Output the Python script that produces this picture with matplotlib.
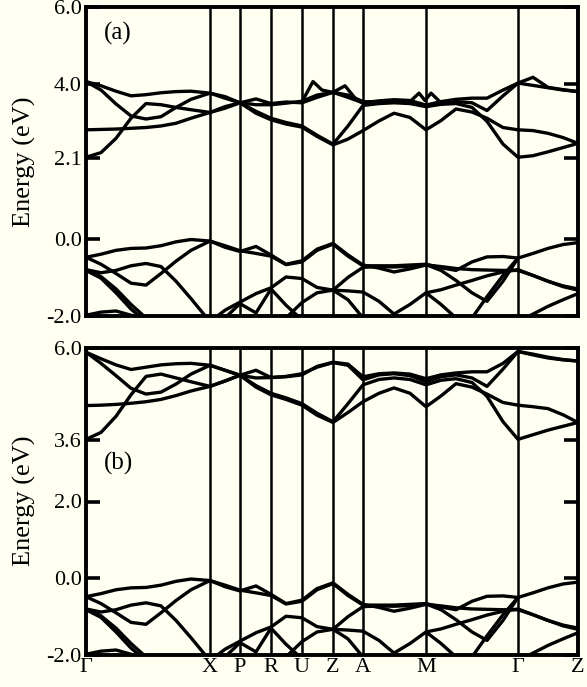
import numpy as np
import matplotlib
matplotlib.use("Agg")
import matplotlib.pyplot as plt

# k-path (distance along the path, arbitrary units) and the high-symmetry points
k_path = [0, 15, 30, 45, 60, 75, 90, 105, 124, 139, 154, 170, 185, 200, 216, 231, 247,
          262, 277, 293, 308, 324, 340, 355, 370, 386, 401, 417, 432, 447, 462, 477, 492]
hs_k = [0, 124, 154, 185, 216, 247, 277, 340, 432, 492]
hs_labels = ["Γ", "X", "P", "R", "U", "Z", "A", "M", "Γ", "Z"]

# conduction bands, panel (a)
cond_a1 = [4.07, 3.96, 3.82, 3.70, 3.73, 3.78, 3.81, 3.82, 3.77, 3.68, 3.52, 3.62, 3.50, 3.54, 3.52, 3.66, 3.79,
           3.66, 3.52, 3.57, 3.60, 3.58, 3.46, 3.55, 3.61, 3.64, 3.64, 3.85, 4.03, 3.97, 3.91, 3.85, 3.81]
cond_a2 = [4.07, 3.85, 3.49, 3.18, 3.10, 3.16, 3.40, 3.61, 3.77, 3.64, 3.52, 3.25, 3.08, 2.97, 2.89, 2.65, 2.43,
           2.58, 2.80, 3.05, 3.25, 3.14, 2.82, 3.06, 3.36, 3.28, 3.12, 2.88, 2.82, 2.80, 2.73, 2.62, 2.47]
cond_a3 = [2.11, 2.23, 2.60, 3.12, 3.50, 3.47, 3.40, 3.34, 3.27, 3.38, 3.52, 3.30, 3.12, 3.01, 2.92, 2.68, 2.45,
           2.92, 3.45, 3.50, 3.52, 3.50, 3.42, 3.48, 3.50, 3.40, 3.04, 2.45, 2.11, 2.15, 2.25, 2.36, 2.47]
cond_a4 = [2.82, 2.83, 2.84, 2.86, 2.88, 2.92, 2.99, 3.12, 3.27, 3.42, 3.52, 3.47, 3.47, 3.51, 3.56, 3.72, 3.79,
           3.72, 3.55, 3.54, 3.56, 3.52, 3.45, 3.50, 3.55, 3.52, 3.32, 3.70, 4.03, 4.18, 3.92, 3.86, 3.81]
# the little spikes near Z and M in panel (a)
spike_z_k = [216, 227, 236, 247, 259, 270, 277]
spike_z_e = [3.55, 4.07, 3.85, 3.79, 3.96, 3.61, 3.51]
spike_m_k = [324, 333, 339, 345, 355]
spike_m_e = [3.55, 3.77, 3.58, 3.77, 3.52]

# conduction bands, panel (b)
cond_b1 = [5.89, 5.72, 5.56, 5.44, 5.50, 5.56, 5.59, 5.60, 5.55, 5.42, 5.29, 5.42, 5.23, 5.25, 5.30, 5.52, 5.63,
           5.58, 5.25, 5.33, 5.35, 5.32, 5.20, 5.30, 5.35, 5.38, 5.38, 5.60, 5.91, 5.82, 5.74, 5.69, 5.66]
cond_b2 = [5.89, 5.60, 5.28, 4.95, 4.80, 4.85, 5.06, 5.32, 5.55, 5.42, 5.29, 4.98, 4.78, 4.66, 4.51, 4.25, 4.06,
           4.32, 4.60, 4.82, 4.96, 4.82, 4.47, 4.75, 5.07, 4.98, 4.80, 4.58, 4.51, 4.47, 4.42, 4.26, 4.06]
cond_b3 = [3.62, 3.80, 4.22, 4.78, 5.26, 5.32, 5.22, 5.12, 5.00, 5.14, 5.29, 5.02, 4.82, 4.70, 4.55, 4.30, 4.08,
           4.55, 5.04, 5.18, 5.22, 5.18, 5.04, 5.16, 5.20, 5.10, 4.74, 4.08, 3.62, 3.74, 3.86, 3.96, 4.06]
cond_b4 = [4.50, 4.51, 4.53, 4.56, 4.60, 4.66, 4.76, 4.88, 5.00, 5.14, 5.29, 5.22, 5.23, 5.26, 5.33, 5.50, 5.62,
           5.55, 5.17, 5.30, 5.33, 5.28, 5.12, 5.25, 5.30, 5.22, 5.00, 5.45, 5.91, 5.84, 5.76, 5.70, 5.66]

# valence bands (same in both panels), None = outside the window
val_1 = [-0.48, -0.40, -0.30, -0.25, -0.24, -0.18, -0.08, -0.02, -0.06, -0.18, -0.31, -0.38, -0.45, -0.67, -0.60,
         -0.30, -0.14, -0.45, -0.70, -0.70, -0.70, -0.68, -0.66, -0.75, -0.82, -0.60, -0.47, -0.46, -0.50,
         -0.38, -0.25, -0.15, -0.10]
val_2 = [-0.48, -0.66, -0.90, -1.15, -1.20, -0.90, -0.58, -0.30, -0.06, -0.22, -0.33, -0.20, -0.42, -0.66, -0.57,
         -0.27, -0.12, -0.42, -0.68, -0.76, -0.86, -0.78, -0.68, -0.72, -0.77, -0.80, -0.81, -0.82, -0.82,
         -0.95, -1.10, -1.24, -1.33]
val_3 = [-0.80, -0.88, -0.82, -0.70, -0.64, -0.72, -1.10, -1.55, -2.15, -1.85, -1.64, -1.42, -1.27, -0.99, -1.03,
         -1.26, -1.33, -1.35, -1.38, -1.62, -1.95, -1.70, -1.40, -1.32, -1.20, -1.08, -0.96, -0.86, -0.80,
         -0.95, -1.10, -1.22, -1.30]
val_4 = [-0.80, -0.98, -1.30, -1.70, -2.05, -2.40, None, None, -2.40, -2.05, -1.68, -1.92, -1.30, -1.72, -2.10,
         None, None, None, None, None, None, None, None, None, -2.40, -2.05, -1.50, -0.95, -0.50,
         None, None, None, None]
val_5 = [None, None, None, None, None, None, None, None, None, None, None, None, None, None, None,
         None, -1.33, -1.00, -0.74, -0.72, -0.73, -0.71, -0.67, -0.82, -1.08, -1.40, -1.62, -1.10, -0.50,
         None, None, None, None]
val_6 = [-1.98, -1.90, -1.87, -1.98, -2.20, None, None, None, None, None, None, None, None, None, None,
         None, None, None, None, None, None, None, None, None, None, None, None, None, None,
         None, None, None, None]
val_7 = [None, None, None, None, None, None, None, None, None, None, None, None, None, -2.05, -1.65,
         -1.40, -1.33, -1.58, -2.05, None, None, None, None, None, None, None, None, None, None,
         None, None, None, None]
val_8 = [None, None, None, None, None, None, None, None, None, None, None, None, None, None, None,
         None, None, None, None, None, None, None, -1.40, -1.70, -2.05, None, None, None, None,
         None, None, None, None]
val_9 = [None, None, None, None, None, None, None, None, None, None, None, None, None, None, None,
         None, None, None, None, None, None, None, None, None, None, None, None, None, -2.15,
         -1.95, -1.75, -1.58, -1.42]
val_10 = [-0.82, -1.02, -1.40, -1.82, -2.15, None, None, None, None, None, None, None, None, None, None,
          None, None, None, None, None, None, None, None, None, None, None, None, None, None,
          None, None, None, None]

valence = [val_1, val_2, val_3, val_4, val_5, val_6, val_7, val_8, val_9, val_10]
cond_a = [cond_a1, cond_a2, cond_a3, cond_a4]
cond_b = [cond_b1, cond_b2, cond_b3, cond_b4]

yticks_a = [-2.0, 0.0, 2.1, 4.0, 6.0]
yticks_b = [-2.0, 0.0, 2.0, 3.6, 6.0]

BG = "#fffff2"
plt.rcParams["font.family"] = ["Liberation Serif", "DejaVu Serif"]

fig = plt.figure(figsize=(5.87, 6.87), dpi=100, facecolor=BG)
ax_a = fig.add_axes([86 / 587, 1 - 316 / 687, 492 / 587, 309 / 687])
ax_b = fig.add_axes([86 / 587, 1 - 655 / 687, 492 / 587, 307 / 687])


def draw_panel(ax, bands, yticks, tag, tag_y):
    ax.set_facecolor(BG)
    for band in bands:
        ax.plot(k_path, np.array(band, dtype=float), color="black", lw=2.4,
                solid_joinstyle="round", solid_capstyle="round")
    # vertical lines at the inner high-symmetry points
    for k in hs_k[1:-1]:
        ax.axvline(k, color="black", lw=1.8)
    ax.set_xlim(hs_k[0], hs_k[-1])
    ax.set_ylim(-2.0, 6.0)
    ax.set_yticks(yticks)
    ax.set_yticklabels(["%.1f" % t for t in yticks])
    ax.tick_params(axis="y", direction="in", length=10, width=2.6, right=True,
                   colors="black", labelsize=16, pad=3)
    for sp in ax.spines.values():
        sp.set_linewidth(2.8)
    ax.text(0.037, tag_y, tag, transform=ax.transAxes, fontsize=18, va="center")


draw_panel(ax_a, valence + cond_a, yticks_a, "(a)", 0.915)
ax_a.plot(spike_z_k, spike_z_e, color="black", lw=2.4, solid_joinstyle="round")
ax_a.plot(spike_m_k, spike_m_e, color="black", lw=2.4, solid_joinstyle="round")
ax_a.tick_params(axis="x", length=0, labelbottom=False)

draw_panel(ax_b, valence + cond_b, yticks_b, "(b)", 0.624)
ax_b.set_xticks(hs_k)
ax_b.set_xticklabels(hs_labels)
ax_b.tick_params(axis="x", length=0, labelsize=16, pad=2)

fig.text(24 / 587, 1 - 162 / 687, "Energy (eV)", rotation=90, ha="center", va="center", fontsize=19)
fig.text(24 / 587, 1 - 501 / 687, "Energy (eV)", rotation=90, ha="center", va="center", fontsize=19)

fig.savefig("out.png", dpi=100, facecolor=BG)
